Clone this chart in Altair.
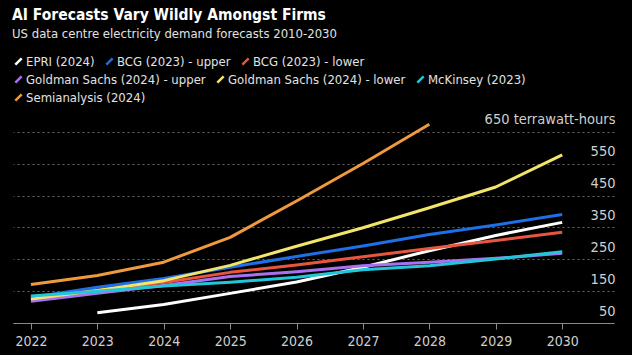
import altair as alt
import pandas as pd

years = [2022, 2023, 2024, 2025, 2026, 2027, 2028, 2029, 2030]
series = [
    "EPRI (2024)",
    "BCG (2023) - upper",
    "BCG (2023) - lower",
    "Goldman Sachs (2024) - upper",
    "Goldman Sachs (2024) - lower",
    "McKinsey (2023)",
    "Semianalysis (2024)",
]
colors = ["#ffffff", "#1f6fe6", "#e8563f", "#a970f0", "#f3e46a", "#22c6d8", "#f09a3e"]

epri = [None, 82, 108, 143, 179, 225, 277, 325, 366]
bcg_upper = [130, 162, 190, 225, 259, 292, 328, 358, 391]
bcg_lower = [127, 152, 177, 209, 232, 258, 284, 309, 335]
gs_upper = [118, 143, 168, 196, 211, 230, 241, 253, 269]
gs_lower = [125, 152, 183, 231, 291, 349, 412, 477, 578]
mckinsey = [135, 150, 166, 178, 194, 217, 230, 251, 274]
semianalysis = [171, 199, 241, 319, 433, 551, 674, None, None]

y_ticks = [50, 150, 250, 350, 450, 550, 650]
x_ticks = years

# legend rows (as laid out in the original)
legend_rows = [series[0:3], series[3:6], series[6:7]]

all_values = [epri, bcg_upper, bcg_lower, gs_upper, gs_lower, mckinsey, semianalysis]
rows = []
for name, vals in zip(series, all_values):
    for yr, v in zip(years, vals):
        if v is not None:
            rows.append({"year": yr, "twh": v, "series": name})
df = pd.DataFrame(rows)

FONT = "DejaVu Sans Condensed, DejaVu Sans, sans-serif"

x_enc = alt.X(
    "year:Q",
    scale=alt.Scale(domain=[2021.73, 2030.78], nice=False, zero=False),
    axis=alt.Axis(
        values=x_ticks,
        format="d",
        title=None,
        grid=False,
        domainColor="#8a8a8a",
        tickColor="#8a8a8a",
        tickSize=6,
        labelColor="#cfcfcf",
        labelFontSize=14,
        labelFont=FONT,
        labelPadding=5,
        labelFlush=False,
    ),
)
y_enc = alt.Y(
    "twh:Q",
    scale=alt.Scale(domain=[50, 700], nice=False, zero=False),
    axis=alt.Axis(
        orient="right",
        values=y_ticks,
        title=None,
        domain=False,
        ticks=False,
        grid=True,
        gridColor="#6a6a6a",
        gridDash=[2, 3],
        gridWidth=1,
        labelAlign="right",
        labelBaseline="alphabetic",
        labelOffset=-8,
        labelPadding=1,
        labelColor="#cfcfcf",
        labelFontSize=14.5,
        labelFont=FONT,
        labelFlush=False,
        labelExpr="datum.value == 650 ? '650 terrawatt-hours' : datum.label",
    ),
)

layers = []
for i, names in enumerate(legend_rows):
    cols = [colors[series.index(n)] for n in names]
    layer = (
        alt.Chart(df)
        .transform_filter(alt.FieldOneOfPredicate(field="series", oneOf=names))
        .mark_line(strokeWidth=3, strokeCap="butt", strokeJoin="round")
        .encode(
            x=x_enc,
            y=y_enc,
            color=alt.Color(
                "series:N",
                scale=alt.Scale(domain=names, range=cols),
                legend=alt.Legend(
                    title=None,
                    orient="none",
                    direction="horizontal",
                    gridAlign="none",
                    legendX=-1,
                    legendY=-61 + 18 * i,
                    symbolType="M-1,1L1,-1",
                    symbolSize=40,
                    symbolStrokeWidth=2.5,
                    labelOffset=1,
                    labelFontSize=13,
                    labelFont=FONT,
                    labelColor="#e2e2e2",
                    labelLimit=400,
                    columnPadding=6,
                ),
            ),
        )
    )
    layers.append(layer)

chart = (
    alt.layer(*layers)
    .resolve_scale(color="independent")
    .properties(
        width=601,
        height=207,
        title=alt.TitleParams(
            text="AI Forecasts Vary Wildly Amongst Firms",
            subtitle="US data centre electricity demand forecasts 2010-2030",
            anchor="start",
            frame="group",
            dx=-1,
            offset=14,
            font=FONT,
            fontSize=15.5,
            fontWeight="bold",
            color="#ffffff",
            subtitleFont=FONT,
            subtitleFontSize=13,
            subtitleColor="#e2e2e2",
            subtitlePadding=5,
        ),
        autosize=alt.AutoSizeParams(type="none"),
        padding={"left": 13, "top": 116, "right": 18, "bottom": 32},
    )
    .configure(background="#000000")
    .configure_view(stroke=None)
)

chart.save("out.html", embed_options={"renderer": "svg", "actions": False})
